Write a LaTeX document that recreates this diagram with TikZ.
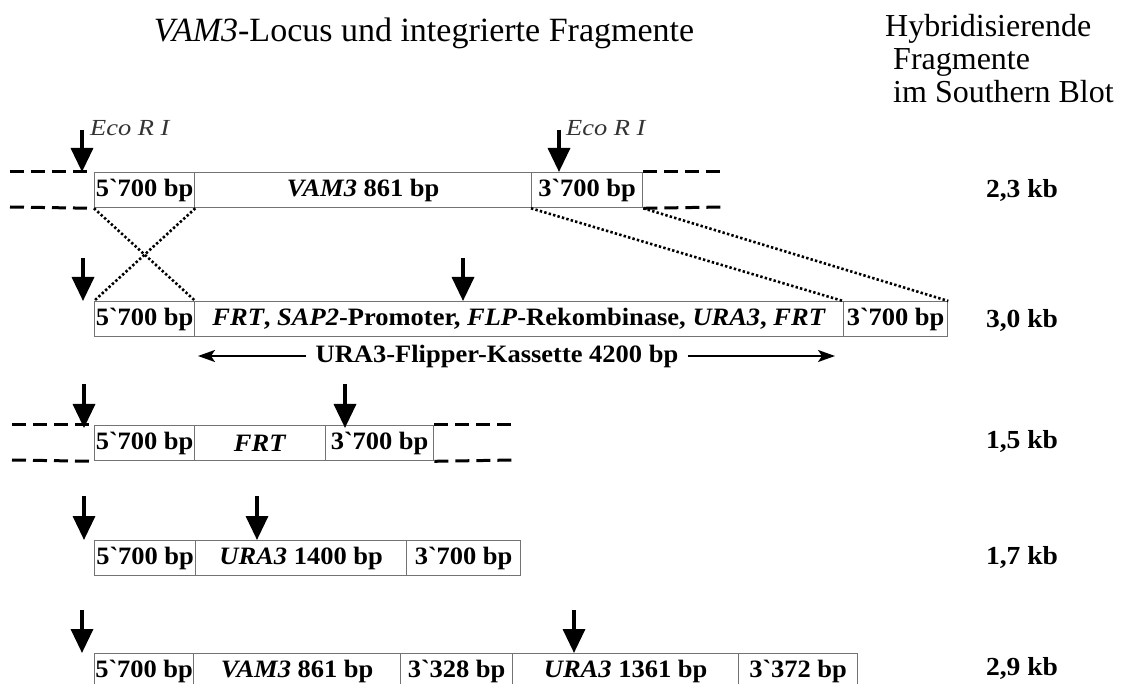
\documentclass[tikz,border=0pt]{standalone}
\usepackage{fontspec}
\setmainfont{Liberation Serif}
\newfontfamily\bfont[FakeStretch=1.06]{Liberation Serif}
\newfontfamily\efont[FakeStretch=1.15]{Liberation Serif}
\usetikzlibrary{arrows.meta}
\newcommand\grv{\XeTeXglyph\XeTeXcharglyph"60\relax}
\tikzset{
  seg/.style={draw=black!55, line width=1.3pt, inner sep=0pt, minimum height=35pt,
    anchor=north west, font=\bfont\bfseries\fontsize{25}{28}\selectfont, text=black},
  site/.style={line width=3.5pt, -{Triangle[width=22pt,length=24pt]}},
  flank/.style={line width=3pt, dash pattern=on 14pt off 7pt},
  xover/.style={line width=2.6pt, dash pattern=on 2.4pt off 2.2pt},
  kb/.style={font=\bfont\bfseries\fontsize{26}{28}\selectfont},
  eco/.style={font=\efont\itshape\fontsize{23}{24}\selectfont, text=black!80, anchor=west, inner sep=0pt},
  hdr/.style={font=\fontsize{32}{34}\selectfont, anchor=base west, inner sep=0pt},
  ttl/.style={font=\fontsize{34}{36}\selectfont, anchor=base, inner sep=0pt},
  flip/.style={font=\bfont\bfseries\fontsize{25}{28}\selectfont, inner xsep=9pt, inner ysep=0pt},
  flarrow/.style={line width=2pt, -{Stealth[length=17pt,width=12pt,inset=4pt]}},
}
\begin{document}
\begin{tikzpicture}[x=1pt,y=-1pt]
\useasboundingbox (0,0) rectangle (1125,684);
% headings
\node[ttl] (title) at (424,42) {\textit{VAM3}-Locus und integrierte Fragmente};
\node[hdr] (h1) at (885,37) {Hybridisierende};
\node[hdr] (h2) at (893,70) {Fragmente};
\node[hdr] (h3) at (893,103) {im Southern Blot};
% row 1
\node[seg, minimum width=100pt] (r1a) at (94,172) {5\grv700 bp};
\node[seg, minimum width=337pt] (r1b) at (194,172) {\textit{VAM3} 861 bp};
\node[seg, minimum width=111pt] (r1c) at (531,172) {3\grv700 bp};
% row 2
\node[seg, minimum width=100pt] (r2a) at (94,301) {5\grv700 bp};
\node[seg, minimum width=649pt] (r2b) at (194,301) {\textit{FRT}, \textit{SAP2}-Promoter, \textit{FLP}-Rekombinase, \textit{URA3}, \textit{FRT}};
\node[seg, minimum width=104pt] (r2c) at (843,301) {3\grv700 bp};
% row 3
\node[seg, minimum width=100pt] (r3a) at (94,425) {5\grv700 bp};
\node[seg, minimum width=131pt] (r3b) at (194,425) {\textit{FRT}};
\node[seg, minimum width=108pt] (r3c) at (325,425) {3\grv700 bp};
% row 4
\node[seg, minimum width=101pt] (r4a) at (94,540) {5\grv700 bp};
\node[seg, minimum width=211pt] (r4b) at (195,540) {\textit{URA3} 1400 bp};
\node[seg, minimum width=114pt] (r4c) at (406,540) {3\grv700 bp};
% row 5
\node[seg, minimum width=99pt] (r5a) at (94,653) {5\grv700 bp};
\node[seg, minimum width=207pt] (r5b) at (193,653) {\textit{VAM3} 861 bp};
\node[seg, minimum width=112pt] (r5c) at (400,653) {3\grv328 bp};
\node[seg, minimum width=226pt] (r5d) at (512,653) {\textit{URA3} 1361 bp};
\node[seg, minimum width=119pt] (r5e) at (738,653) {3\grv372 bp};
% flanking dashed lines
\coordinate (f1l) at (10,172); \coordinate (f1L) at (10,207);
\coordinate (f1r) at (723,172); \coordinate (f1R) at (723,207);
\draw[flank] (f1l) -- (r1a.north west);
\draw[flank] (f1L) -- (r1a.south west);
\draw[flank] (r1c.north east) -- (f1r);
\draw[flank] (r1c.south east) -- (f1R);
\coordinate (f3l) at (12,425); \coordinate (f3L) at (12,460);
\coordinate (f3r) at (514,425); \coordinate (f3R) at (514,460);
\draw[flank] (f3l) -- (r3a.north west);
\draw[flank] (f3L) -- (r3a.south west);
\draw[flank] (r3c.north east) -- (f3r);
\draw[flank] (r3c.south east) -- (f3R);
% crossover lines
\draw[xover] (r1a.south west) -- (r2a.north east);
\draw[xover] (r1a.south east) -- (r2a.north west);
\draw[xover] (r1c.south west) -- (r2c.north west);
\draw[xover] (r1c.south east) -- (r2c.north east);
% Eco R I sites
\node[eco] (eco1) at (90,128) {Eco R I};
\node[eco] (eco2) at (566,128) {Eco R I};
\coordinate (s1a) at (82,130); \coordinate (s1b) at (559,130);
\draw[site] (s1a) -- (s1a |- r1a.north);
\draw[site] (s1b) -- (s1b |- r1c.north);
\coordinate (s2a) at (83,258); \coordinate (s2b) at (463,258);
\draw[site] (s2a) -- (s2a |- r2a.north);
\draw[site] (s2b) -- (s2b |- r2b.north);
\coordinate (s3a) at (84,384); \coordinate (s3b) at (345,384);
\draw[site] (s3a) -- ([yshift=-3pt]s3a |- r3a.north);
\draw[site] (s3b) -- ([yshift=-3pt]s3b |- r3c.north);
\coordinate (s4a) at (84,496); \coordinate (s4b) at (257,496);
\draw[site] (s4a) -- (s4a |- r4a.north);
\draw[site] (s4b) -- (s4b |- r4b.north);
\coordinate (s5a) at (82,610); \coordinate (s5b) at (574,610);
\draw[site] (s5a) -- (s5a |- r5a.north);
\draw[site] (s5b) -- (s5b |- r5d.north);
% flipper cassette
\node[flip] (flipper) at (497,356) {URA3-Flipper-Kassette 4200 bp};
\coordinate (flL) at (198,356); \coordinate (flR) at (835,356);
\draw[flarrow] (flipper.west) -- (flL);
\draw[flarrow] (flipper.east) -- (flR);
% kb labels
\node[kb] (kb1) at (1022,190) {2,3 kb};
\node[kb] (kb2) at (1022,320) {3,0 kb};
\node[kb] (kb3) at (1022,441) {1,5 kb};
\node[kb] (kb4) at (1022,557) {1,7 kb};
\node[kb] (kb5) at (1022,668) {2,9 kb};
\end{tikzpicture}
\end{document}
